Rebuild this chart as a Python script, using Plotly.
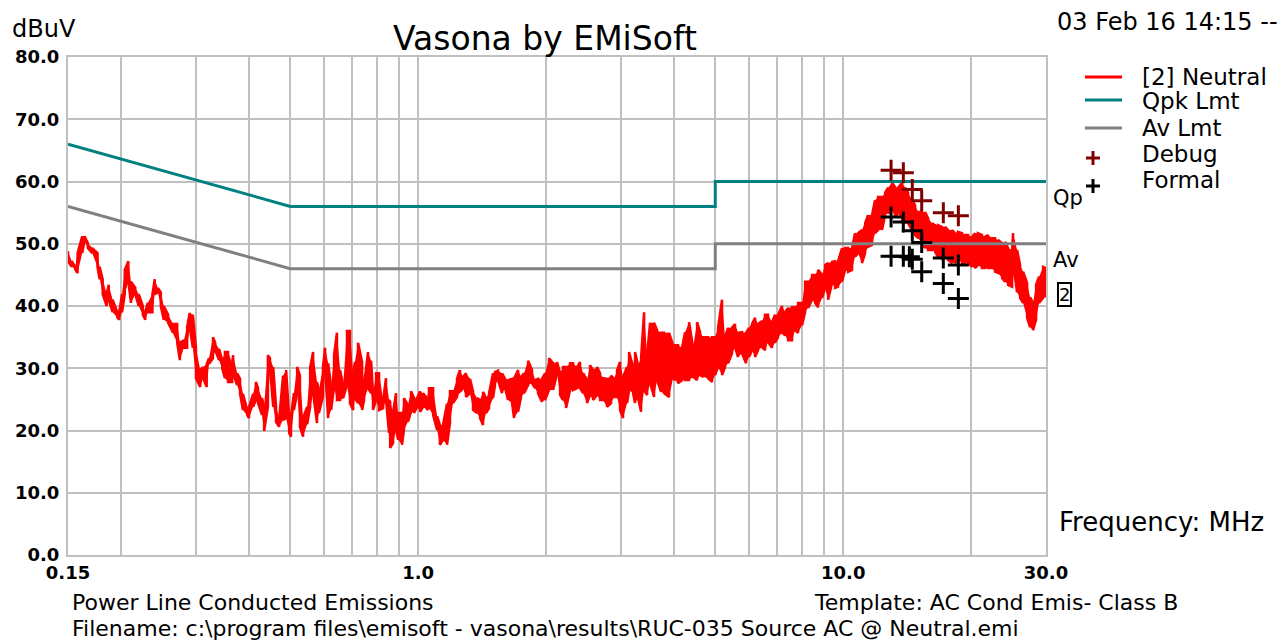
import math
import plotly.graph_objects as go

# ---------------- data ----------------
# measured trace [2] Neutral: frequency (MHz) with the max / min level of each sweep column (dBuV)
freq_mhz = [
    0.150, 0.153, 0.156, 0.158, 0.162, 0.164, 0.167, 0.171, 0.176, 0.178, 0.181, 0.185, 0.187, 0.191, 0.196,
    0.198, 0.201, 0.204, 0.208, 0.211, 0.216, 0.220, 0.225, 0.228, 0.231, 0.237, 0.240, 0.244, 0.248, 0.252,
    0.258, 0.265, 0.271, 0.275, 0.281, 0.286, 0.290, 0.295, 0.300, 0.307, 0.312, 0.318, 0.322, 0.329, 0.333,
    0.340, 0.346, 0.351, 0.357,
    0.365, 0.367, 0.375, 0.381, 0.387, 0.396, 0.400, 0.409, 0.415, 0.420, 0.429, 0.434, 0.443, 0.448, 0.456,
    0.463, 0.471, 0.481, 0.489, 0.497, 0.502, 0.510, 0.519, 0.527, 0.536, 0.548, 0.557, 0.566, 0.578, 0.584,
    0.597, 0.604, 0.614, 0.624, 0.634, 0.644, 0.655, 0.666, 0.680, 0.691, 0.703, 0.710, 0.722, 0.738, 0.746,
    0.762, 0.775, 0.783, 0.796, 0.809, 0.827, 0.840, 0.854,
    0.859, 0.873, 0.887, 0.897, 0.916, 0.926, 0.946, 0.962, 0.978, 0.994, 1.010, 1.027, 1.049, 1.060, 1.084,
    1.108, 1.125, 1.144, 1.169, 1.188, 1.208, 1.234, 1.254, 1.275, 1.296, 1.324, 1.346, 1.376, 1.398, 1.421,
    1.444, 1.468, 1.500, 1.516, 1.541, 1.575, 1.601, 1.627, 1.663, 1.681, 1.718, 1.746, 1.775, 1.814, 1.853,
    1.884, 1.914, 1.956,
    1.988, 2.032, 2.077, 2.122, 2.157, 2.192, 2.228, 2.277, 2.314, 2.365, 2.403, 2.443, 2.496, 2.537, 2.579,
    2.635, 2.679, 2.722, 2.782, 2.843, 2.890, 2.937, 2.985, 3.034, 3.101, 3.135, 3.203, 3.238, 3.291, 3.345,
    3.400, 3.456, 3.512, 3.589, 3.648, 3.728, 3.789, 3.893, 3.978, 4.021, 4.087, 4.177, 4.246, 4.339, 4.434,
    4.531, 4.605, 4.681, 4.808,
    4.913, 4.994, 5.076, 5.187, 5.272, 5.358, 5.476, 5.566, 5.656, 5.781, 5.907, 6.004, 6.102, 6.203, 6.304,
    6.442, 6.548, 6.655, 6.801, 6.912, 7.026, 7.180, 7.298, 7.418, 7.580, 7.704, 7.831, 8.003, 8.134, 8.268,
    8.449, 8.588, 8.728, 8.919, 9.066, 9.214, 9.416, 9.568, 9.725, 9.938, 10.10, 10.27, 10.49, 10.66, 10.84,
    11.07, 11.26, 11.44,
    11.69, 11.88, 12.08, 12.34, 12.55, 12.75, 13.03, 13.24, 13.46, 13.76, 13.98, 14.21, 14.52, 14.76, 15.00,
    15.33, 15.58, 15.84, 16.18, 16.45, 16.72, 17.09, 17.36, 17.65, 18.03, 18.33, 18.63, 19.04, 19.35, 19.67,
    20.09, 20.42, 20.76, 21.21, 21.56, 21.91, 22.39, 22.76, 23.14, 23.65, 24.03, 24.43, 24.97, 25.10, 25.65,
    26.07, 26.50, 27.08, 27.52, 27.97, 28.43, 28.89, 29.53, 30.0,
]
level_max = [
    48.8, 47.2, 46.3, 48.5, 51.2, 51.2, 50.1, 49.3, 48.5, 46.3, 44.3, 41.9, 43.4, 41.0, 39.0,
    39.0, 41.9, 45.8, 47.2, 43.9, 42.9, 41.9, 40.0, 39.0, 40.5, 41.9, 44.3, 42.9, 42.2, 40.0,
    38.6, 37.1, 37.1, 34.1, 34.5, 36.6, 38.9, 38.6, 33.3, 29.7, 30.2, 30.7, 31.6, 35.0, 34.1,
    33.1, 31.3, 32.6, 32.6,
    30.8, 32.1, 29.2, 28.3, 25.9, 23.3, 23.8, 25.9, 27.8, 26.8, 25.2, 23.8, 32.1, 31.6, 30.2,
    23.8, 22.0, 28.8, 29.7, 22.0, 22.2, 26.0, 30.2, 28.8, 22.0, 23.8, 30.2, 32.6, 27.8, 26.5,
    30.2, 33.3, 30.8, 27.0, 32.1, 35.7, 29.7, 27.3, 36.0, 36.0, 29.2, 31.0, 34.1, 31.0, 27.3,
    32.6, 31.2, 25.9, 29.2, 29.2, 24.9, 28.4, 24.9,
    24.6, 23.0, 26.0, 22.8, 22.8, 25.2, 24.1, 26.3, 25.2, 25.2, 26.3, 26.0, 25.2, 26.8, 26.8,
    22.3, 20.9, 20.9, 24.3, 26.3, 26.3, 28.3, 29.7, 28.6, 29.2, 28.3, 26.3, 25.2, 24.9, 26.2,
    25.2, 26.0, 29.2, 29.4, 29.6, 29.2, 28.3, 28.1, 28.3, 28.3, 29.7, 28.6, 29.2, 31.2, 29.7,
    28.1, 28.3, 28.3,
    29.2, 31.6, 30.8, 31.0, 29.2, 30.2, 30.2, 30.8, 30.8, 30.2, 31.0, 29.2, 28.1, 30.5, 29.7,
    30.2, 29.2, 28.4, 28.3, 28.8, 28.3, 29.7, 31.0, 28.6, 30.2, 32.6, 30.2, 32.6, 30.5, 31.6,
    39.0, 32.1, 37.3, 37.3, 36.1, 35.7, 35.7, 35.7, 33.7, 33.7, 33.7, 33.3, 35.8, 37.4, 33.3,
    37.4, 35.8, 35.0, 35.0,
    35.0, 35.0, 36.5, 41.0, 35.0, 36.5, 36.5, 37.1, 35.7, 35.8, 35.7, 36.5, 37.1, 38.1, 37.1,
    37.6, 38.6, 38.6, 37.4, 38.6, 38.6, 40.0, 39.0, 39.7, 39.8, 39.8, 40.5, 40.5, 43.9, 43.9,
    45.0, 45.0, 45.8, 45.0, 46.6, 46.9, 47.1, 47.2, 47.2, 49.3, 49.3, 49.3, 49.3, 51.7, 51.7,
    52.2, 53.3, 54.6,
    54.6, 57.0, 57.5, 57.5, 58.2, 59.0, 59.8, 59.1, 59.0, 59.8, 59.0, 58.2, 57.0, 56.2, 55.1,
    55.1, 55.1, 54.1, 53.3, 53.0, 53.0, 52.7, 52.7, 52.2, 52.2, 51.7, 51.9, 51.7, 51.4, 51.4,
    51.1, 51.7, 51.7, 51.4, 51.1, 51.4, 50.9, 50.9, 50.6, 50.1, 50.3, 49.3, 49.0, 51.7, 49.0,
    46.6, 45.5, 43.7, 41.4, 40.5, 43.4, 44.7, 46.3, 46.1,
]
level_min = [
    47.2, 46.3, 45.9, 45.3, 48.5, 50.5, 49.3, 48.5, 46.3, 44.3, 41.9, 40.0, 41.0, 39.0, 38.2,
    37.8, 39.0, 41.9, 43.9, 40.5, 41.9, 40.0, 38.6, 37.8, 39.0, 39.0, 41.9, 42.2, 40.0, 37.8,
    37.3, 35.7, 34.1, 31.3, 33.3, 33.3, 36.6, 33.3, 28.4, 27.0, 28.4, 27.0, 30.7, 31.6, 32.9,
    31.3, 29.9, 28.4, 27.8,
    27.8, 29.2, 27.3, 25.9, 23.3, 22.5, 22.0, 23.8, 24.9, 24.4, 22.5, 19.9, 23.8, 30.2, 23.8,
    21.4, 20.6, 21.7, 22.0, 19.6, 19.0, 23.3, 26.0, 20.6, 19.0, 21.0, 23.8, 26.0, 21.2, 22.8,
    25.4, 29.9, 22.0, 23.3, 27.0, 24.9, 24.9, 25.2, 27.3, 24.4, 23.3, 25.2, 24.4, 23.3, 24.9,
    26.8, 26.0, 23.3, 24.9, 23.3, 23.6, 24.9, 19.6,
    17.2, 18.0, 20.1, 18.5, 17.7, 20.1, 21.4, 23.0, 22.8, 23.8, 23.0, 23.8, 23.3, 23.6, 22.5,
    20.1, 17.7, 18.5, 17.7, 21.2, 24.4, 25.4, 26.2, 26.8, 25.4, 26.0, 23.3, 22.8, 22.0, 20.9,
    22.8, 23.6, 25.2, 27.3, 28.1, 26.0, 26.8, 24.9, 24.4, 22.0, 23.0, 25.4, 26.0, 27.3, 27.6,
    26.8, 26.0, 24.6,
    24.9, 26.5, 26.5, 29.2, 25.7, 24.9, 23.6, 26.5, 26.5, 26.8, 26.8, 26.0, 24.4, 25.7, 24.9,
    25.7, 24.9, 24.9, 23.8, 24.4, 25.4, 25.4, 23.3, 22.0, 24.4, 26.5, 26.0, 24.4, 25.2, 23.0,
    26.5, 25.7, 27.6, 25.4, 28.1, 26.2, 26.0, 25.4, 28.4, 28.1, 27.6, 28.1, 28.1, 28.1, 28.6,
    28.1, 28.9, 28.6, 28.4,
    27.8, 28.9, 30.2, 28.9, 30.2, 30.8, 32.4, 33.4, 31.8, 32.4, 30.8, 31.8, 32.9, 31.8, 32.9,
    33.4, 32.9, 34.2, 33.3, 34.1, 35.0, 35.7, 35.3, 34.5, 34.5, 36.1, 35.7, 36.9, 39.0, 39.7,
    41.0, 40.5, 39.8, 41.3, 42.9, 41.0, 43.7, 42.9, 43.1, 43.9, 45.8, 45.5, 45.8, 47.9, 48.5,
    46.9, 48.5, 49.5,
    49.8, 51.7, 52.2, 52.2, 54.6, 54.9, 55.4, 54.3, 54.9, 53.8, 53.3, 53.3, 52.2, 51.4, 50.9,
    50.1, 49.3, 49.0, 49.0, 48.7, 47.9, 47.4, 47.9, 47.4, 46.9, 46.9, 47.4, 46.9, 46.9, 46.9,
    46.3, 46.1, 46.6, 46.1, 46.1, 46.1, 46.1, 45.5, 45.3, 44.5, 43.9, 43.4, 43.1, 46.9, 42.2,
    41.3, 40.5, 38.1, 36.6, 36.1, 37.8, 40.5, 41.3, 41.4,
]

# limit lines (CISPR 22 class B)
qpk_freq = [0.15, 0.5, 5.0, 5.0, 30.0]
qpk_level = [66.0, 56.0, 56.0, 60.0, 60.0]
av_freq = [0.15, 0.5, 5.0, 5.0, 30.0]
av_level = [56.0, 46.0, 46.0, 50.0, 50.0]

# spot measurements
debug_freq = [12.96, 13.85, 14.54, 15.30, 17.20, 18.66]
debug_level = [61.8, 61.4, 58.7, 56.9, 55.0, 54.5]
formal_freq = [12.96, 13.85, 14.54, 15.30, 17.20, 18.66, 12.96, 13.85, 14.31, 14.54, 15.30, 17.20, 18.66]
formal_level = [54.3, 53.5, 52.1, 50.2, 47.7, 46.6, 48.0, 48.0, 47.9, 47.5, 45.5, 43.6, 41.2]

# axis ticks
x_grid = [0.15, 0.2, 0.3, 0.4, 0.5, 0.6, 0.7, 0.8, 0.9, 1, 2, 3, 4, 5, 6, 7, 8, 9, 10, 20, 30]
x_labels = {0.15: "0.15", 1: "1.0", 10: "10.0", 30: "30.0"}
y_ticks = [0, 10, 20, 30, 40, 50, 60, 70, 80]

# ---------------- figure ----------------
# the page body has an 8px margin, so the figure is 8px smaller and all page positions shift by 8
OFF = 8
W, H = 1288 - OFF, 641 - OFF
L, R, T, B = 68, 1046, 57, 555   # plot area in page pixels


def px(x, y):
    return (x - L) / (R - L), (B - y) / (B - T)


n = min(len(freq_mhz), len(level_max), len(level_min))
fx, hi, lo = freq_mhz[:n], level_max[:n], level_min[:n]

# zig-zag path through the max/min of every column
zx, zy = [], []
for i in range(n):
    zx += [fx[i], fx[i]]
    zy += [hi[i], lo[i]] if i % 2 == 0 else [lo[i], hi[i]]

RED = "#ff0000"
fig = go.Figure()
fig.add_trace(go.Scatter(x=fx, y=hi, mode="lines", line=dict(color=RED, width=0),
                         hoverinfo="skip", showlegend=False))
fig.add_trace(go.Scatter(x=fx, y=lo, mode="lines", line=dict(color=RED, width=0),
                         fill="tonexty", fillcolor=RED, hoverinfo="skip", showlegend=False))
fig.add_trace(go.Scatter(x=zx, y=zy, mode="lines", name="[2] Neutral",
                         line=dict(color=RED, width=2.5), hoverinfo="skip"))
fig.add_trace(go.Scatter(x=qpk_freq, y=qpk_level, mode="lines", name="Qpk Lmt",
                         line=dict(color="#008080", width=3)))
fig.add_trace(go.Scatter(x=av_freq, y=av_level, mode="lines", name="Av Lmt",
                         line=dict(color="#808080", width=3)))
fig.add_trace(go.Scatter(x=debug_freq, y=debug_level, mode="markers", name="Debug",
                         marker=dict(symbol="cross-thin", size=15, color="#800000",
                                     line=dict(color="#800000", width=3))))
fig.add_trace(go.Scatter(x=formal_freq, y=formal_level, mode="markers", name="Formal",
                         marker=dict(symbol="cross-thin", size=15, color="#000000",
                                     line=dict(color="#000000", width=3))))

FONT = "DejaVu Sans"
tickfont = dict(family=FONT, size=18, color="black", weight="bold")

fig.update_layout(
    width=W, height=H,
    margin=dict(l=L - OFF, r=W - (R - OFF), t=T - OFF, b=H - (B - OFF), pad=0, autoexpand=False),
    paper_bgcolor="white", plot_bgcolor="white",
    showlegend=False,
    title=dict(text="Vasona by EMiSoft", x=(545 - L) / (R - L), xref="paper", xanchor="center",
               y=1 - (38 - OFF) / H, yref="container", yanchor="middle",
               font=dict(family=FONT, size=33, color="black")),
    xaxis=dict(type="log", range=[math.log10(0.15), math.log10(30)],
               tickvals=x_grid, ticktext=[x_labels.get(v, "") for v in x_grid],
               showgrid=True, gridcolor="#c0c0c0", gridwidth=2,
               showline=True, linecolor="#c0c0c0", linewidth=2, mirror=True,
               ticks="", ticklabelstandoff=0, zeroline=False, tickfont=tickfont, automargin=False),
    yaxis=dict(range=[0, 80], tickvals=y_ticks, ticktext=[f"{v:.1f}" for v in y_ticks],
               showgrid=True, gridcolor="#c0c0c0", gridwidth=2,
               showline=True, linecolor="#c0c0c0", linewidth=2, mirror=True,
               ticks="", ticklabelstandoff=3, zeroline=False, tickfont=tickfont, automargin=False),
)

ann = []


def text(x, y, s, size=24, anchor="left", **kw):
    xp, yp = px(x, y)
    ann.append(dict(x=xp, y=yp, xref="paper", yref="paper", text=s, showarrow=False,
                    xanchor=anchor, yanchor="middle",
                    font=dict(family=FONT, size=size, color="black"), **kw))


text(10, 29, "dBuV", 24)
text(1055, 22, "03 Feb 16 14:15 --", 24)
# legend
legend_rows = [("[2] Neutral", 77), ("Qpk Lmt", 101), ("Av Lmt", 128), ("Debug", 154), ("Formal", 180)]
for label, yy in legend_rows:
    text(1140, yy, label, 23)
text(1051, 198, "Qp", 21)
text(1051, 260, "Av", 21)
text(1064, 294, "2", 18, anchor="center", bordercolor="black", borderwidth=2, borderpad=0)
text(1057, 522, "Frequency: MHz", 26)
text(70, 602, "Power Line Conducted Emissions", 22)
text(812, 602, "Template: AC Cond Emis- Class B", 22)
text(70, 628, "Filename: c:\\program files\\emisoft - vasona\\results\\RUC-035 Source AC @ Neutral.emi", 22)
fig.update_layout(annotations=ann)

shapes = []
for color, yy in [("#ff0000", 77), ("#008080", 100), ("#808080", 128)]:
    x0, y0 = px(1085, yy)
    x1, _ = px(1122, yy)
    shapes.append(dict(type="line", xref="paper", yref="paper", x0=x0, x1=x1, y0=y0, y1=y0,
                       line=dict(color=color, width=3)))
for color, cx, cy in [("#800000", 1093, 158), ("#000000", 1093, 186)]:
    a0, b0 = px(cx - 7, cy)
    a1, _ = px(cx + 7, cy)
    shapes.append(dict(type="line", xref="paper", yref="paper", x0=a0, x1=a1, y0=b0, y1=b0,
                       line=dict(color=color, width=3)))
    c0, d0 = px(cx, cy - 7)
    _, d1 = px(cx, cy + 7)
    shapes.append(dict(type="line", xref="paper", yref="paper", x0=c0, x1=c0, y0=d0, y1=d1,
                       line=dict(color=color, width=3)))
fig.update_layout(shapes=shapes)

fig.write_html("out.html")
